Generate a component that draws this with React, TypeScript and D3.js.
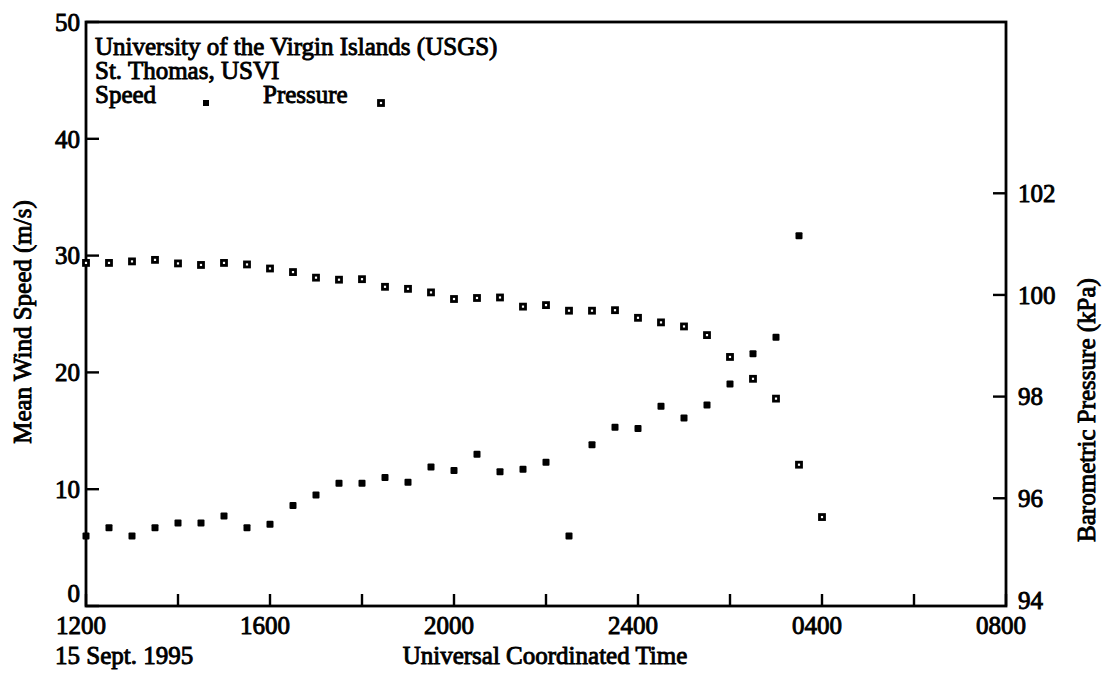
import React from "react";
import * as d3 from "d3";

// ---- data ----
const times = ["1200","1230","1300","1330","1400","1430","1500","1530","1600","1630","1700","1730","1800","1830","1900","1930","2000","2030","2100","2130","2200","2230","2300","2330","2400","0030","0100","0130","0200","0230","0300","0330","0400"];
const speedValues = [6.0, 6.7, 6.0, 6.7, 7.1, 7.1, 7.7, 6.7, 7.0, 8.6, 9.5, 10.5, 10.5, 11.0, 10.6, 11.9, 11.6, 13.0, 11.5, 11.7, 12.3, 6.0, 13.8, 15.3, 15.2, 17.1, 16.1, 17.2, 19.0, 21.6, 23.0, 31.7];
const pressureValues = [100.63, 100.63, 100.66, 100.69, 100.62, 100.59, 100.63, 100.60, 100.52, 100.45, 100.34, 100.30, 100.31, 100.16, 100.12, 100.05, 99.92, 99.94, 99.95, 99.77, 99.80, 99.69, 99.69, 99.70, 99.55, 99.46, 99.38, 99.21, 98.78, 98.35, 97.96, 96.66, 95.63];
const xTickHours = [0, 2, 4, 6, 8, 10, 12, 14, 16, 18, 20];
const xTickLabels = ["1200", "1600", "2000", "2400", "0400", "0800"];
const speedTicks = [0, 10, 20, 30, 40, 50];
const pressureTicks = [94, 96, 98, 100, 102];
const titleLines = ["University of the Virgin Islands (USGS)", "St. Thomas, USVI"];

function hoursFrom1200(t: string): number {
  let h = +t.slice(0, 2) + +t.slice(2) / 60;
  if (h < 12) h += 24;
  return h - 12;
}

const FONT = "'Liberation Serif', 'Times New Roman', serif";

export default function App() {
  const L = 86, R = 1006, T = 22, B = 606;
  const x = d3.scaleLinear().domain([0, 20]).range([L, R]);
  const yS = d3.scaleLinear().domain([0, 50]).range([B, T]);
  const yP = d3.scaleLinear().domain([93.88, 105.37]).range([B, T]);
  const txt = { fontFamily: FONT, fill: "#000", stroke: "#000", strokeWidth: 0.9 } as const;
  const fs = 25;

  return (
    <svg width={1103} height={678} style={{ position: "absolute", left: 0, top: 0, background: "#fff" }}>
      <rect x={0} y={0} width={1103} height={678} fill="#fff" />
      {/* frame */}
      <rect x={L} y={T} width={R - L} height={B - T} fill="none" stroke="#000" strokeWidth={2.8} />
      {/* left ticks */}
      {speedTicks.map((v) => (
        <g key={"s" + v}>
          <line x1={L} x2={L + 13} y1={yS(v)} y2={yS(v)} stroke="#000" strokeWidth={2.4} />
          <text x={L - 6} y={v === 0 ? yS(v) - 13 : yS(v)} dy="0.35em" textAnchor="end" fontSize={fs} {...txt}>{v}</text>
        </g>
      ))}
      {/* right ticks */}
      {pressureTicks.map((v) => (
        <g key={"p" + v}>
          {v !== 94 && <line x1={R} x2={R - 13} y1={yP(v)} y2={yP(v)} stroke="#000" strokeWidth={2.4} />}
          <text x={R + 12} y={yP(v)} dy="0.35em" textAnchor="start" fontSize={fs} {...txt}>{v}</text>
        </g>
      ))}
      {/* bottom ticks */}
      {xTickHours.map((h) => (
        <line key={"x" + h} x1={x(h)} x2={x(h)} y1={B} y2={B - 12} stroke="#000" strokeWidth={2.4} />
      ))}
      {xTickLabels.map((lab, i) => (
        <text key={"xl" + lab} x={x(i * 4) - 5} y={634} textAnchor="middle" fontSize={fs} {...txt}>{lab}</text>
      ))}
      <text x={55} y={664} fontSize={fs} {...txt}>15 Sept. 1995</text>
      <text x={545} y={664} textAnchor="middle" fontSize={fs} {...txt}>Universal Coordinated Time</text>
      <text transform={`translate(31,${322}) rotate(-90)`} textAnchor="middle" fontSize={fs} {...txt}>Mean Wind Speed (m/s)</text>
      <text transform={`translate(1095,${410}) rotate(-90)`} textAnchor="middle" fontSize={fs} {...txt}>Barometric Pressure (kPa)</text>
      {/* title / legend */}
      {titleLines.map((s, i) => (
        <text key={s} x={95} y={55 + i * 24} fontSize={fs} {...txt}>{s}</text>
      ))}
      <text x={95} y={103} fontSize={fs} {...txt}>Speed</text>
      <rect x={203} y={100} width={6} height={6} fill="#000" />
      <text x={263} y={103} fontSize={fs} {...txt}>Pressure</text>
      <rect x={378.5} y={100.5} width={5} height={5} fill="#fff" stroke="#000" strokeWidth={2.8} />
      {/* pressure points */}
      {pressureValues.map((p, i) => (
        <rect key={"pp" + i} x={x(hoursFrom1200(times[i])) - 2.5} y={yP(p) - 2.5} width={5} height={5} fill="#fff" stroke="#000" strokeWidth={2.8} />
      ))}
      {/* speed points */}
      {speedValues.map((s, i) => (
        <rect key={"sp" + i} x={x(hoursFrom1200(times[i])) - 3.5} y={yS(s) - 3.5} width={7} height={7} rx={1} fill="#000" />
      ))}
    </svg>
  );
}
